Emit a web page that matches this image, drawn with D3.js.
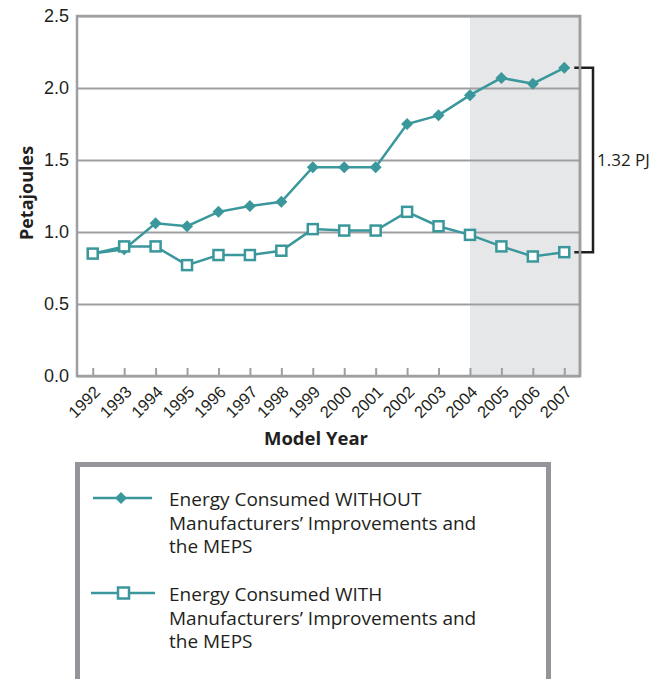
<!DOCTYPE html>
<html>
<head>
<meta charset="utf-8">
<script src="https://cdn.jsdelivr.net/npm/d3@7/dist/d3.min.js"></script>
<style>
	body { margin:0; background:#fff; }
	svg { display:block; font-family:"Open Sans", sans-serif; }
</style>
</head>
<body>
<svg id="chart" width="661" height="679"></svg>
<script>

//------------------------------------------------------------------
// data
//------------------------------------------------------------------
var years			= [1992,1993,1994,1995,1996,1997,1998,1999,2000,2001,2002,2003,2004,2005,2006,2007];
var without		= [0.85,0.88,1.06,1.04,1.14,1.18,1.21,1.45,1.45,1.45,1.75,1.81,1.95,2.07,2.03,2.14];
var withMeps	= [0.85,0.90,0.90,0.77,0.84,0.84,0.87,1.02,1.01,1.01,1.14,1.04,0.98,0.90,0.83,0.86];
var yTickVals	= [0,0.5,1,1.5,2,2.5];
var shadeFrom	= 2004;
var gapLabel	= '1.32 PJ';
var legendTxt	= [
	['Energy Consumed WITHOUT','Manufacturers\u2019 Improvements and','the MEPS'],
	['Energy Consumed WITH','Manufacturers\u2019 Improvements and','the MEPS'],
];

var teal = '#3a979b', grey = '#9d9fa2', ink = '#231f20';


//------------------------------------------------------------------
//
//------------------------------------------------------------------
function drawChart()	{

	var svg	= d3.select('#chart'),
			L		= 77, R = 580, T = 16, B = 376,
			x		= d3.scalePoint().domain(years).range([L,R]).padding(0.5),
			y		= d3.scaleLinear().domain([0,2.5]).range([B,T]);

	// shaded projection
	svg.append('rect')
		.attr('x', x(shadeFrom))
		.attr('y', T)
		.attr('width', R - x(shadeFrom))
		.attr('height', B - T)
		.attr('fill', '#e6e7e8');

	// y axis + grid
	svg.append('g')
		.attr('transform', 'translate('+L+',0)')
		.call(d3.axisLeft(y).tickValues(yTickVals).tickFormat(d3.format('.1f')).tickSize(-(R-L)).tickPadding(8))
		.call(sel=>{
			sel.select('.domain').remove();
			sel.selectAll('.tick line').attr('stroke', grey).attr('stroke-width', 2);
			sel.selectAll('.tick text').attr('fill', ink).style('font-size','18px');
		});

	// x axis
	svg.append('g')
		.attr('transform', 'translate(0,'+B+')')
		.call(d3.axisBottom(x).tickSize(-8).tickPadding(0))
		.call(sel=>{
			sel.select('.domain').remove();
			sel.selectAll('.tick line').attr('stroke', grey).attr('stroke-width', 2);
			sel.selectAll('.tick text')
				.attr('fill', ink)
				.attr('y', 0).attr('dy', 0)
				.attr('text-anchor', 'end')
				.attr('transform', 'translate(8,17) rotate(-45)')
				.style('font-size','16.5px');
		});

	// frame
	svg.append('rect')
		.attr('x', L).attr('y', T)
		.attr('width', R-L).attr('height', B-T)
		.attr('fill', 'none')
		.attr('stroke', grey)
		.attr('stroke-width', 2.5);

	// axis titles
	svg.append('text')
		.attr('transform', 'translate(33,193) rotate(-90)')
		.attr('text-anchor', 'middle')
		.attr('fill', ink)
		.style('font-size','18px').style('font-weight','bold')
		.text('Petajoules');

	svg.append('text')
		.attr('x', 316).attr('y', 445)
		.attr('text-anchor', 'middle')
		.attr('fill', ink)
		.style('font-size','18.5px').style('font-weight','bold')
		.text('Model Year');

	// bracket, drawn before the series so the markers sit on top
	var last = years.length-1,
			bx = R + 13;
	svg.append('path')
		.attr('d', 'M'+(x(years[last])+10)+','+y(without[last])+'H'+bx+'V'+y(withMeps[last])+'H'+(x(years[last])+10))
		.attr('fill', 'none')
		.attr('stroke', ink)
		.attr('stroke-width', 2.5);

	svg.append('text')
		.attr('x', bx+4)
		.attr('y', (y(without[last])+y(withMeps[last]))/2 + 6)
		.attr('fill', ink)
		.style('font-size','17px')
		.text(gapLabel);

	// redraw right frame edge over bracket start
	svg.append('line')
		.attr('x1', R).attr('x2', R).attr('y1', T-1).attr('y2', B+1)
		.attr('stroke', grey).attr('stroke-width', 2.5);

	var line = d3.line().x((d,i)=>x(years[i])).y(d=>y(d));

	svg.append('path')
		.datum(without)
		.attr('d', line)
		.attr('fill', 'none')
		.attr('stroke', teal)
		.attr('stroke-width', 2.5);

	svg.append('g').selectAll('path').data(without)
		.enter()
			.append('path')
				.attr('transform', (d,i)=>'translate('+x(years[i])+','+y(d)+')')
				.attr('d', 'M0,-6L6,0L0,6L-6,0Z')
				.attr('fill', teal);

	svg.append('path')
		.datum(withMeps)
		.attr('d', line)
		.attr('fill', 'none')
		.attr('stroke', teal)
		.attr('stroke-width', 2.5);

	svg.append('g').selectAll('rect').data(withMeps)
		.enter()
			.append('rect')
				.attr('x', (d,i)=>x(years[i])-5)
				.attr('y', d=>y(d)-5)
				.attr('width', 10).attr('height', 10)
				.attr('fill', '#fff')
				.attr('stroke', teal)
				.attr('stroke-width', 2.5);

}


//------------------------------------------------------------------
//
//------------------------------------------------------------------
function drawLegend()	{

	var svg = d3.select('#chart');

	svg.append('rect')
		.attr('x', 77.5).attr('y', 464.5)
		.attr('width', 471).attr('height', 240)
		.attr('fill', '#fff')
		.attr('stroke', '#939598')
		.attr('stroke-width', 5);

	var rows = [ {y:498, tx:506, line:[93,152]}, {y:593, tx:601, line:[91,155]} ];

	rows.forEach((r,i)=>{

		svg.append('line')
			.attr('x1', r.line[0]).attr('x2', r.line[1])
			.attr('y1', r.y).attr('y2', r.y)
			.attr('stroke', teal).attr('stroke-width', 2.5);

		if (i==0)	{
			svg.append('path')
				.attr('transform', 'translate(121,'+r.y+')')
				.attr('d', 'M0,-6L6,0L0,6L-6,0Z')
				.attr('fill', teal);
		} else {
			svg.append('rect')
				.attr('x', 118).attr('y', r.y-5.5)
				.attr('width', 11).attr('height', 11)
				.attr('fill', '#fff')
				.attr('stroke', teal).attr('stroke-width', 2.5);
		}

		svg.append('text')
			.attr('x', 169).attr('y', r.tx)
			.attr('fill', ink)
			.style('font-size','19px')
			.selectAll('tspan').data(legendTxt[i])
			.enter()
				.append('tspan')
					.attr('x', 169)
					.attr('dy', (d,j)=>j ? 23.5 : 0)
					.text(d=>d);

	});

}


drawChart();
drawLegend();

</script>
</body>
</html>
